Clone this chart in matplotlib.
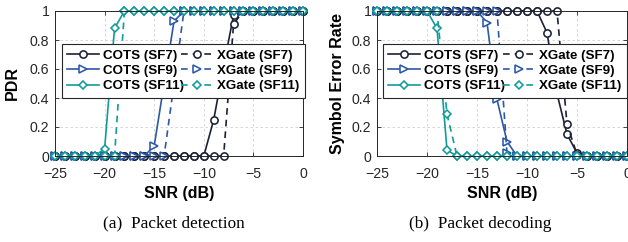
import matplotlib
matplotlib.use("Agg")
import matplotlib.pyplot as plt
import numpy as np

snr = list(range(-25, 1))

# Panel (a): PDR
pdr_cots_sf7 = [0]*15 + [0, 0.25, 0.62, 0.97] + [1]*7
pdr_xg_sf7 = [0]*17 + [0, 0.91] + [1]*7
pdr_cots_sf9 = [0]*9 + [0, 0.07, 0.5, 0.93] + [1]*13
pdr_xg_sf9 = [0]*11 + [0, 0.5] + [1]*13
pdr_cots_sf11 = [0]*4 + [0, 0.05, 0.88] + [1]*19
pdr_xg_sf11 = [0]*6 + [0] + [1]*19

# Panel (b): SER
ser_cots_sf7 = [1]*16 + [1, 0.85, 0.43, 0.15, 0.02] + [0]*5
ser_xg_sf7 = [1]*18 + [1, 0.22, 0.01] + [0]*5
ser_cots_sf9 = [1]*10 + [1, 0.92, 0.39, 0.10] + [0]*12
ser_xg_sf9 = [1]*12 + [1, 0.02] + [0]*12
ser_cots_sf11 = [1]*5 + [1, 0.88, 0.04] + [0]*18
ser_xg_sf11 = [1]*6 + [1, 0.29] + [0]*18

xticks = [-25, -20, -15, -10, -5, 0]
yticks = [0, 0.2, 0.4, 0.6, 0.8, 1]
ytick_labels = ["0", "0.2", "0.4", "0.6", "0.8", "1"]
labels = ["COTS (SF7)", "COTS (SF9)", "COTS (SF11)",
          "XGate (SF7)", "XGate (SF9)", "XGate (SF11)"]

c7 = "#1c2236"
c9 = "#2c58a8"
c11 = "#119c9a"

plt.rcParams['font.family'] = ['Liberation Sans', 'DejaVu Sans']

fig = plt.figure(figsize=(6.28, 2.42), dpi=100)
axA = fig.add_axes([55/628, 86/242, 248/628, 145/242])
axB = fig.add_axes([377/628, 86/242, 250/628, 145/242])


def draw(ax, series, ylabel, leg_x0, leg_w, ylab_x):
    styles = [
        (c7, 'o', '-'), (c9, '>', '-'), (c11, 'D', '-'),
        (c7, 'o', '--'), (c9, '>', '--'), (c11, 'D', '--'),
    ]
    order = [0, 3, 1, 4, 2, 5]
    handles = [None]*6
    for i in order:
        col, mk, ls = styles[i]
        ms = 5.2 if mk != 'D' else 4.4
        h, = ax.plot(snr, series[i], color=col, ls=ls, lw=1.2, marker=mk,
                     ms=ms, mfc='white', mec=col, mew=1.15, clip_on=False,
                     dashes=(4, 3) if ls == '--' else (None, None))
        handles[i] = h
    ax.set_xlim(-25, 0)
    ax.set_ylim(0, 1)
    ax.set_xticks(xticks)
    ax.set_yticks(yticks)
    ax.set_yticklabels(ytick_labels)
    ax.tick_params(direction='in', length=3, width=0.6, labelsize=10.2,
                   colors='#262626', top=True, right=True)
    ax.tick_params(axis='x', pad=8)
    ax.tick_params(axis='y', pad=4)
    ax.grid(True, ls=(0, (3, 3)), color='#d0d0d0', lw=0.6)
    for s in ax.spines.values():
        s.set_color('#262626')
        s.set_linewidth(0.7)
    ax.set_xlabel("SNR (dB)", fontsize=11.5, fontweight='bold')
    ax.set_ylabel(ylabel, fontsize=11.5, fontweight='bold')
    ax.xaxis.set_label_coords(0.5, -0.205)
    ax.yaxis.set_label_coords(ylab_x, 0.5)
    leg = fig.legend(handles, labels, ncol=2, loc='center',
                     bbox_to_anchor=(leg_x0, 0.402, leg_w, 0.37),
                     bbox_transform=ax.transAxes,
                     mode='expand', borderaxespad=0, numpoints=1,
                     fancybox=False, framealpha=1, edgecolor='#262626',
                     handlelength=2.4, handletextpad=0.3, columnspacing=0.8,
                     labelspacing=0.22, borderpad=0.4,
                     prop={'weight': 'bold', 'size': 9.6})
    leg.get_frame().set_linewidth(0.8)


draw(axA, [pdr_cots_sf7, pdr_cots_sf9, pdr_cots_sf11,
           pdr_xg_sf7, pdr_xg_sf9, pdr_xg_sf11], "PDR", 0.028, 0.98, -0.141)
draw(axB, [ser_cots_sf7, ser_cots_sf9, ser_cots_sf11,
           ser_xg_sf7, ser_xg_sf9, ser_xg_sf11], "Symbol Error Rate", 0.024, 0.976, -0.128)

fig.text(174/628, 0.075, "(a)  Packet detection", ha='center', va='center',
         fontsize=12.4, family='Liberation Serif')
fig.text(480/628, 0.075, "(b)  Packet decoding", ha='center', va='center',
         fontsize=12.4, family='Liberation Serif')

fig.savefig("out.png", dpi=100)
